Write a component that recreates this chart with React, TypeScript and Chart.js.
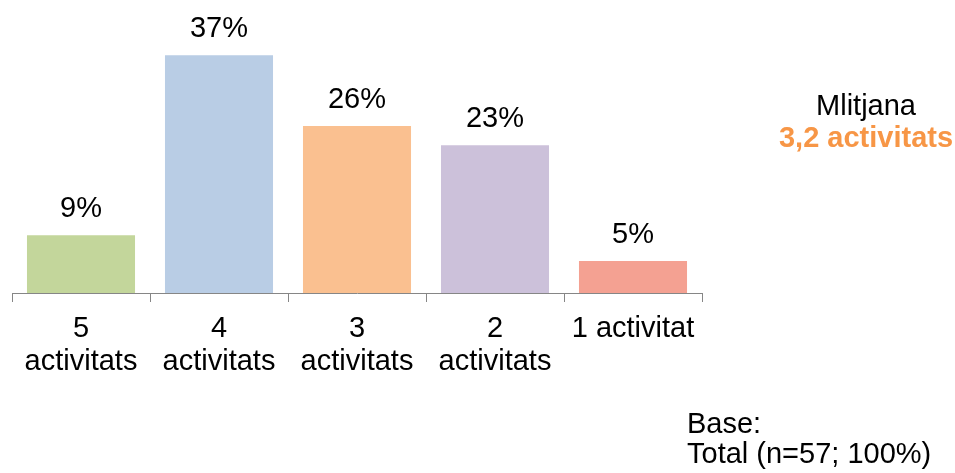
import React, { useEffect, useRef } from "react";
import { Chart, registerables } from "chart.js";

Chart.register(...registerables);

// Share of respondents by number of activities
const categories: (string | string[])[] = [
  ["5", "activitats"],
  ["4", "activitats"],
  ["3", "activitats"],
  ["2", "activitats"],
  "1 activitat",
];
const shares = [9, 37, 26, 23, 5];
const barColors = ["#c3d69b", "#b9cde5", "#fac090", "#ccc1da", "#f4a192"];

const meanTitle = "Mlitjana";
const meanValue = "3,2 activitats";
const baseLines = ["Base:", "Total (n=57; 100%)"];

const FONT = "'Liberation Sans', Arial, sans-serif";
const FONT_SIZE = 29;

const valueLabels = {
  id: "valueLabels",
  afterDatasetsDraw(chart: any) {
    const ctx = chart.ctx;
    const meta = chart.getDatasetMeta(0);
    ctx.save();
    ctx.font = `${FONT_SIZE}px ${FONT}`;
    ctx.fillStyle = "#000";
    ctx.textAlign = "center";
    ctx.textBaseline = "alphabetic";
    meta.data.forEach((bar: any, i: number) => {
      ctx.fillText(`${shares[i]}%`, bar.x, bar.y - 18);
    });
    ctx.restore();
  },
};

const sideNotes = {
  id: "sideNotes",
  afterDraw(chart: any) {
    const ctx = chart.ctx;
    ctx.save();
    ctx.textBaseline = "alphabetic";
    ctx.textAlign = "center";
    ctx.fillStyle = "#000";
    ctx.font = `${FONT_SIZE}px ${FONT}`;
    ctx.fillText(meanTitle, 866, 115);
    ctx.fillStyle = "#f79646";
    ctx.font = `bold ${FONT_SIZE}px ${FONT}`;
    ctx.fillText(meanValue, 866, 147);
    ctx.textAlign = "left";
    ctx.fillStyle = "#000";
    ctx.font = `${FONT_SIZE}px ${FONT}`;
    ctx.fillText(baseLines[0], 687, 433);
    ctx.fillText(baseLines[1], 687, 463);
    ctx.restore();
  },
};

export default function App() {
  const canvasRef = useRef<HTMLCanvasElement | null>(null);

  useEffect(() => {
    const canvas = canvasRef.current;
    if (!canvas) return;
    const chart = new Chart(canvas, {
      type: "bar",
      data: {
        labels: categories,
        datasets: [
          {
            data: shares,
            backgroundColor: barColors,
            borderWidth: 0,
            categoryPercentage: 1,
            barPercentage: 0.783,
          },
        ],
      },
      options: {
        animation: false,
        responsive: false,
        maintainAspectRatio: false,
        layout: { padding: { left: 12, right: 253, top: 36, bottom: 0 } },
        plugins: {
          legend: { display: false },
          tooltip: { enabled: false },
        },
        scales: {
          x: {
            grid: {
              display: true,
              drawOnChartArea: false,
              drawTicks: true,
              tickLength: 9,
              color: "#868686",
              lineWidth: 1,
            },
            border: { display: true, color: "#868686", width: 1 },
            ticks: {
              color: "#000",
              padding: 10,
              maxRotation: 0,
              autoSkip: false,
              font: { family: FONT, size: FONT_SIZE, lineHeight: 1.15 },
            },
            afterFit(scale: any) {
              scale.height = 180;
            },
          },
          y: {
            display: false,
            min: 0,
            max: 40,
          },
        },
      },
      plugins: [valueLabels, sideNotes],
    });
    return () => chart.destroy();
  }, []);

  return (
    <canvas
      ref={canvasRef}
      width={955}
      height={473}
      style={{ position: "absolute", left: 0, top: 0, width: 955, height: 473 }}
    />
  );
}
